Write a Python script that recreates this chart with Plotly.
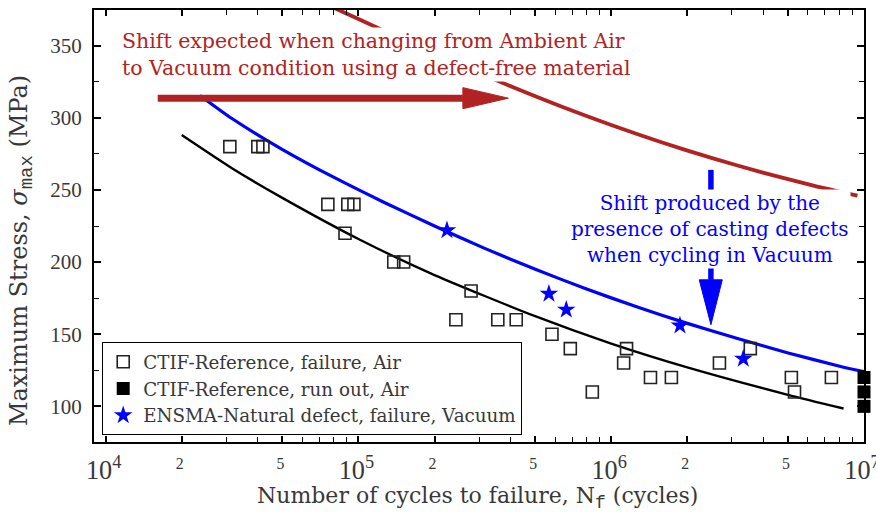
import plotly.graph_objects as go

# ---------------- data ----------------
# CTIF-Reference, failure, Air (open squares)
fail_air_N = [3.10e4, 4.00e4, 4.19e4, 7.57e4, 9.08e4, 9.60e4, 8.85e4, 1.38e5, 1.51e5,
              2.79e5, 2.43e5, 3.56e5, 4.21e5, 5.83e5, 6.89e5, 8.42e5, 1.12e6, 1.15e6,
              1.43e6, 1.73e6, 2.68e6, 3.55e6, 5.16e6, 5.31e6, 7.43e6]
fail_air_S = [280, 280, 280, 240, 240, 240, 220, 200, 200,
              180, 160, 160, 160, 150, 140, 110, 130, 140,
              120, 120, 130, 140, 120, 110, 120]

# CTIF-Reference, run out, Air (filled squares)
runout_N = [1.0e7, 1.0e7, 1.0e7]
runout_S = [120, 110, 100]

# ENSMA-Natural defect, failure, Vacuum (stars)
vac_N = [2.24e5, 5.67e5, 6.64e5, 1.87e6, 3.33e6]
vac_S = [222, 178, 167, 156, 133]

# Fitted curves
air_curve_N = [2.0e4, 3.16e4, 5.0e4, 1.0e5, 2.0e5, 5.0e5, 1.0e6, 2.0e6, 5.0e6, 8.3e6]
air_curve_S = [288, 265, 244.5, 216, 191, 162.5, 143.5, 127, 108, 98.5]

vac_curve_N = [2.36e4, 3.16e4, 5.01e4, 7.94e4, 1.26e5, 2.0e5, 3.16e5, 5.01e5,
               7.94e5, 1.26e6, 2.0e6, 3.16e6, 5.01e6, 7.94e6, 1.0e7]
vac_curve_S = [315.5, 299.5, 278.0, 259.0, 241.5, 225.0, 209.5, 195.0,
               181.5, 169.0, 157.5, 147.0, 137.0, 128.0, 124.0]

shift_curve_N = [7.59e4, 1.0e5, 1.58e5, 2.51e5, 3.98e5, 6.31e5, 1.0e6, 1.58e6,
                 2.51e6, 3.98e6, 6.31e6, 9.42e6]
shift_curve_S = [378, 368.5, 352.5, 337, 322, 308, 295, 283,
                 272, 262, 253, 246]

# Annotation arrows (anchor points)
red_arrow_N = [1.607e4, 2.59e5, 3.92e5]   # tail, head base, tip
red_arrow_S = [313.6, 306.3, 320.9]        # level, head low, head high
blue_arrow_N = [2.23e6, 2.48e6, 2.75e6]    # head left, centre, head right
blue_arrow_S = [263.9, 187.7, 156.6]       # tail, head base, tip

MONO_X = "font-family:Liberation Mono;font-size:18px"
MONO_Y = "font-family:Liberation Mono;font-size:19px"
x_title = f"Number of cycles to failure, N<sub><span style='{MONO_X}'>f</span></sub> (cycles)"
y_title = f"Maximum Stress, <i>σ</i><sub><span style='{MONO_Y}'>max</span></sub> (MPa)"
red_text = "Shift expected when changing from Ambient Air<br>to Vacuum condition using a defect-free material"
blue_text = "Shift produced by the<br>presence of casting defects<br>when cycling in Vacuum"

RED = "#B22222"
BLUE = "#0000FF"
SERIF = "DejaVu Serif"
NUMF = "Liberation Serif"
GREY = "#383838"

fig = go.Figure()

# curves
fig.add_trace(go.Scatter(x=air_curve_N, y=air_curve_S, mode="lines", line=dict(color="black", width=2.4, shape="spline", smoothing=0.6),
                         showlegend=False, hoverinfo="skip"))
fig.add_trace(go.Scatter(x=vac_curve_N, y=vac_curve_S, mode="lines", line=dict(color=BLUE, width=3.2, shape="spline", smoothing=0.6),
                         showlegend=False, hoverinfo="skip"))
fig.add_trace(go.Scatter(x=shift_curve_N, y=shift_curve_S, mode="lines", line=dict(color=RED, width=3.8, shape="spline", smoothing=0.6),
                         showlegend=False, hoverinfo="skip"))

# markers
fig.add_trace(go.Scatter(x=fail_air_N, y=fail_air_S, mode="markers", name="CTIF-Reference, failure, Air",
                         marker=dict(symbol="square-open", size=12, color="#222222", line=dict(width=1.6))))
fig.add_trace(go.Scatter(x=runout_N, y=runout_S, mode="markers", name="CTIF-Reference, run out, Air",
                         marker=dict(symbol="square", size=13, color="black"), cliponaxis=False))
fig.add_trace(go.Scatter(x=vac_N, y=vac_S, mode="markers", name="ENSMA-Natural defect, failure, Vacuum",
                         marker=dict(symbol="star", size=14, color=BLUE, line=dict(width=0))))

# red horizontal arrow
fig.add_trace(go.Scatter(x=[red_arrow_N[0], red_arrow_N[1]], y=[red_arrow_S[0], red_arrow_S[0]], mode="lines",
                         line=dict(color=RED, width=7), showlegend=False, hoverinfo="skip"))
fig.add_trace(go.Scatter(x=[red_arrow_N[1], red_arrow_N[2], red_arrow_N[1], red_arrow_N[1]],
                         y=[red_arrow_S[1], red_arrow_S[0], red_arrow_S[2], red_arrow_S[1]],
                         mode="lines", fill="toself", fillcolor=RED, line=dict(color=RED, width=1),
                         showlegend=False, hoverinfo="skip"))
# blue vertical arrow
fig.add_trace(go.Scatter(x=[blue_arrow_N[1], blue_arrow_N[1]], y=[blue_arrow_S[0], blue_arrow_S[1]], mode="lines",
                         line=dict(color=BLUE, width=5.5), showlegend=False, hoverinfo="skip"))
fig.add_trace(go.Scatter(x=[blue_arrow_N[0], blue_arrow_N[1], blue_arrow_N[2], blue_arrow_N[0]],
                         y=[blue_arrow_S[1], blue_arrow_S[2], blue_arrow_S[1], blue_arrow_S[1]],
                         mode="lines", fill="toself", fillcolor=BLUE, line=dict(color=BLUE, width=1),
                         showlegend=False, hoverinfo="skip"))

fig.add_annotation(text=red_text, xref="paper", yref="paper", x=0.034, y=0.896, xanchor="left", yanchor="middle",
                   align="left", showarrow=False, bgcolor="white", borderpad=1,
                   font=dict(family=SERIF, size=20.5, color=RED))
fig.add_annotation(text=blue_text, xref="paper", yref="paper", x=0.80, y=0.493, xanchor="center", yanchor="middle",
                   align="center", showarrow=False, bgcolor="white", borderpad=1,
                   font=dict(family=SERIF, size=20, color=BLUE))

# axis titles placed as annotations for precise position
fig.add_annotation(text=x_title, xref="paper", yref="paper", x=0.4987, y=-0.13, xanchor="center", yanchor="middle",
                   showarrow=False, font=dict(family=SERIF, size=22, color=GREY))
fig.add_annotation(text=y_title, xref="paper", yref="paper", x=-0.0948, y=0.442, xanchor="center", yanchor="middle",
                   textangle=-90, showarrow=False, font=dict(family=SERIF, size=24, color=GREY))

axis_common = dict(showline=True, linewidth=2, linecolor="black", mirror="allticks", showgrid=False,
                   zeroline=False, ticks="inside", tickcolor="black", tickwidth=1.5, automargin=False,
                   ticklabeloverflow="allow",
                   tickfont=dict(family=NUMF, size=21, color=GREY))

fig.update_xaxes(type="log", range=[3.954, 7.0], dtick="D2", ticklen=6, exponentformat="power",
                 minor=dict(dtick="D1", ticks="inside", ticklen=5, tickcolor="black", tickwidth=1.2),
                 ticklabelstandoff=5, ticklabelshift=-2, **axis_common)
fig.update_yaxes(range=[75.3, 374.7], tick0=0, dtick=50, ticklen=7,
                 minor=dict(dtick=25, ticks="inside", ticklen=5, tickcolor="black", tickwidth=1.2),
                 ticklabelstandoff=6, **axis_common)

fig.update_layout(width=876, height=513, margin=dict(l=94, r=12, t=10, b=71, autoexpand=False),
                  plot_bgcolor="white", paper_bgcolor="white",
                  font=dict(family=SERIF, color=GREY),
                  legend=dict(x=0.0104, y=0.016, xanchor="left", yanchor="bottom", bgcolor="white",
                              bordercolor="black", borderwidth=1.2, font=dict(family=SERIF, size=18.3, color=GREY),
                              tracegroupgap=0, itemwidth=30))

fig.write_html("out.html", config={"displayModeBar": False},
               post_script="document.body.style.margin='0';document.body.style.padding='0';")
